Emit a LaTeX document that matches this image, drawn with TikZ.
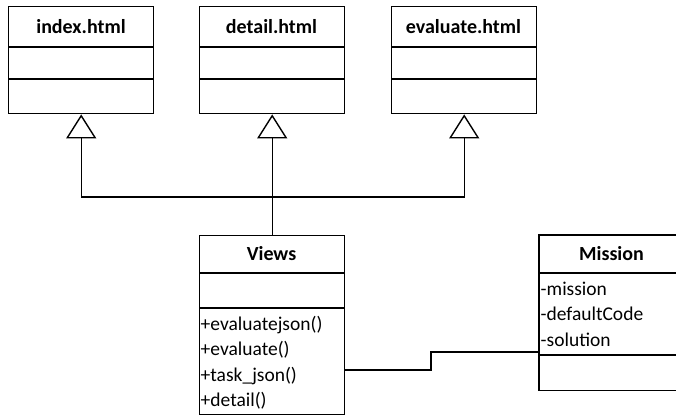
\documentclass[tikz,border=0pt]{standalone}
\usepackage{fontspec}
\setmainfont{Carlito}
\usetikzlibrary{arrows.meta}
\begin{document}
\begin{tikzpicture}[x=1pt,y=-1pt,
  box/.style={draw, line width=1.4pt, anchor=north west, inner sep=0pt, minimum width=145pt},
  hdr/.style={anchor=base, font=\fontsize{20}{24}\selectfont\bfseries, inner sep=0pt},
  mem/.style={anchor=base west, font=\fontsize{19.5}{24}\selectfont, inner sep=0pt},
  sep/.style={line width=1.4pt},
  gen/.style={line width=1.4pt, -{Triangle[open, length=24pt, width=30pt, line width=1.4pt]}},
  assoc/.style={line width=1.4pt}]
\useasboundingbox (0,0) rectangle (676,416);
% index.html
\node[box, minimum height=107pt] (idx) at (8,6) {};
\node[hdr] (idxT) at (81,33) {index.html};
\draw[sep] (idx.west |- 0,47) -- (idx.east |- 0,47);
\draw[sep] (idx.west |- 0,79) -- (idx.east |- 0,79);
% detail.html
\node[box, minimum height=107pt] (det) at (199,6) {};
\node[hdr] (detT) at (271.5,33) {detail.html};
\draw[sep] (det.west |- 0,47) -- (det.east |- 0,47);
\draw[sep] (det.west |- 0,79) -- (det.east |- 0,79);
% evaluate.html
\node[box, minimum height=107pt] (eva) at (391,6) {};
\node[hdr] (evaT) at (463.5,33) {evaluate.html};
\draw[sep] (eva.west |- 0,47) -- (eva.east |- 0,47);
\draw[sep] (eva.west |- 0,79) -- (eva.east |- 0,79);
% Views
\node[box, minimum height=179pt] (views) at (199,235) {};
\node[hdr] (viewsT) at (271.5,260) {Views};
\draw[sep] (views.west |- 0,273) -- (views.east |- 0,273);
\draw[sep] (views.west |- 0,308) -- (views.east |- 0,308);
\node[mem] (m1) at (200.5,330) {+evaluatejson()};
\node[mem] (m2) at (200.5,355.5) {+evaluate()};
\node[mem] (m3) at (200.5,381) {+task\_json()};
\node[mem] (m4) at (200.5,406.5) {+detail()};
% Mission (cut off at the right edge of the picture)
\node[anchor=north west, inner sep=0pt, minimum width=137pt, minimum height=155pt] (mis) at (539,235) {};
\draw[sep] (mis.north east) -- (mis.north west) -- (mis.south west) -- (mis.south east);
\node[hdr] (misT) at (611.5,260) {Mission};
\draw[sep] (mis.west |- 0,273) -- (mis.east |- 0,273);
\draw[sep] (mis.west |- 0,355) -- (mis.east |- 0,355);
\node[mem] (a1) at (540.5,295) {-mission};
\node[mem] (a2) at (540.5,320.5) {-defaultCode};
\node[mem] (a3) at (540.5,346) {-solution};
% generalizations
\coordinate (bus) at (271.5,197);
\draw[gen] (views.north) -- (det.south);
\draw[gen] (bus) -| (idx.south);
\draw[gen] (bus) -| (eva.south);
% association
\draw[assoc] (views.east |- 0,370) -| (431,352) -- (mis.west |- 0,352);
\end{tikzpicture}
\end{document}
